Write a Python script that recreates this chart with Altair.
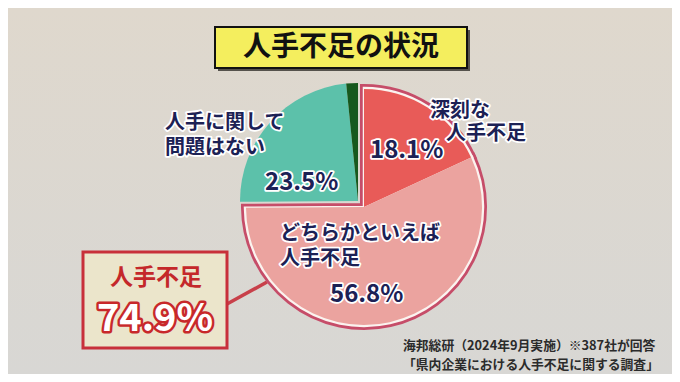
import altair as alt
import pandas as pd

# ---------------- data ----------------
categories = ["深刻な人手不足", "どちらかといえば人手不足", "人手に関して問題はない", "無回答"]
values = [18.1, 56.8, 23.5, 1.6]
groups = ["不足", "不足", "問題なし", "問題なし"]
order = [1, 2, 3, 4]

title_text = "人手不足の状況"
summary_label = "人手不足"
summary_value = "74.9%"
label_texts = ["深刻な", "人手不足", "18.1%",
               "人手に関して", "問題はない", "23.5%",
               "どちらかといえば", "人手不足", "56.8%"]
source_lines = ["海邦総研（2024年9月実施）※387社が回答",
                "「県内企業における人手不足に関する調査」"]

# ---------------- styles / layout ----------------
FONT = "Noto Sans CJK JP"
W, H, OFF = 664, 366, 8
slice_colors = ["#e85b58", "#eba39f", "#5cc1aa", "#17591e"]
NAVY = "#1c2155"
OUTLINE = "#c64d69"

label_x = [430, 446, 370, 165, 165, 265, 280, 280, 330]
label_y = [111, 134, 151, 123, 148, 183, 234, 259, 295]
label_size = [20, 20, 24, 20, 20, 24, 20, 20, 24]

XS = alt.X("x:Q", scale=alt.Scale(domain=[OFF, W + OFF], range=[0, W]), axis=None)
YS = alt.Y("y:Q", scale=alt.Scale(domain=[OFF, H + OFF], range=[0, H]), axis=None)
X2 = alt.X2("x2:Q")
Y2 = alt.Y2("y2:Q")

pie_df = pd.DataFrame({"category": categories, "value": values, "group": groups,
                       "order": order, "color": slice_colors})

theta_scale = alt.Scale(domain=[0, 100], range=[0, 6.283185307179586])


def pie_layer(group, cx, cy, radius, fill=None, stroke=None, sw=0):
    base = (alt.Chart(pie_df)
            .transform_window(cum="sum(value)", sort=[alt.SortField("order")], frame=[None, 0])
            .transform_calculate(start="datum.cum - datum.value")
            .transform_filter(alt.datum.group == group))
    kw = dict(radius=radius)
    if fill is not None:
        kw["fill"] = fill
    if stroke is not None:
        kw["stroke"] = stroke
        kw["strokeWidth"] = sw
        kw["strokeJoin"] = "miter"
    enc = dict(theta=alt.Theta("start:Q", scale=theta_scale, stack=None),
               theta2=alt.Theta2("cum:Q"),
               x=alt.value(cx - OFF), y=alt.value(cy - OFF))
    if fill is None:
        enc["color"] = alt.Color("color:N", scale=None, legend=None)
    return base.mark_arc(**kw).encode(**enc)


# background
bg = alt.Chart(pd.DataFrame({"a": [0]})).mark_rect(
    fill=alt.Gradient(gradient="linear",
                      stops=[alt.GradientStop(color="#dfd8cd", offset=0),
                             alt.GradientStop(color="#d8d7d4", offset=1)],
                      x1=0, x2=0, y1=0, y2=1)
).encode(x=alt.value(0), x2=alt.value(W), y=alt.value(0), y2=alt.value(H))

# connector
conn_df = pd.DataFrame({"x": [227], "y": [304], "x2": [267], "y2": [282]})
conn = alt.Chart(conn_df).mark_rule(color="#c8404a", strokeWidth=3.5).encode(
    x=XS, y=YS, x2=X2, y2=Y2)

# pies
teal = pie_layer("問題なし", 358, 201, 118)
outA = pie_layer("不足", 364, 207, 119, fill=OUTLINE, stroke=OUTLINE, sw=8)
outB = pie_layer("不足", 364, 207, 119, fill="#fbf3ef", stroke="#fbf3ef", sw=2.5)
red = pie_layer("不足", 364, 207, 118)

# boxes
box_df = pd.DataFrame({
    "x": [218, 215, 83], "y": [30, 27, 252], "x2": [470, 467, 227], "y2": [71, 68, 348],
    "fill": ["#55524c", "#f4ee5e", "#ebe5cb"],
    "stroke": ["#55524c", "#111111", "#c8303a"],
    "sw": [0, 2, 3],
})
boxes = alt.Chart(box_df).mark_rect().encode(
    x=XS, y=YS, x2=X2, y2=Y2,
    fill=alt.Fill("fill:N", scale=None, legend=None),
    stroke=alt.Stroke("stroke:N", scale=None, legend=None),
    strokeWidth=alt.StrokeWidth("sw:Q", scale=None, legend=None))

# texts
rows = []
for t, x, y, s in zip(label_texts, label_x, label_y, label_size):
    rows.append(dict(text=t, x=x, y=y, size=s, fill=NAVY, halo="white", hw=3.5, align="left"))
rows.append(dict(text=title_text, x=341, y=48, size=28, fill="#111111", halo="none", hw=0, align="center"))
rows.append(dict(text=summary_label, x=156, y=278, size=23, fill="#c4282a", halo="none", hw=0, align="center"))
rows.append(dict(text=summary_value, x=155, y=320, size=38, fill="#ffffff", halo="#c8282a", hw=5, align="center"))
rows.append(dict(text=source_lines[0], x=403, y=346, size=12.8, fill="#2b2b2b", halo="none", hw=0, align="left"))
rows.append(dict(text=source_lines[1], x=403, y=365, size=12.8, fill="#2b2b2b", halo="none", hw=0, align="left"))
text_df = pd.DataFrame(rows)


def text_layers(align):
    base = alt.Chart(text_df).transform_filter(alt.datum.align == align)
    halo = base.transform_filter("datum.halo != 'none'").mark_text(
        align=align, baseline="middle", font=FONT, fontWeight="bold", strokeJoin="round"
    ).encode(x=XS, y=YS, text="text:N",
             size=alt.Size("size:Q", scale=None, legend=None),
             color=alt.Color("halo:N", scale=None, legend=None),
             stroke=alt.Stroke("halo:N", scale=None, legend=None),
             strokeWidth=alt.StrokeWidth("hw:Q", scale=None, legend=None))
    fill = base.mark_text(
        align=align, baseline="middle", font=FONT, fontWeight="bold"
    ).encode(x=XS, y=YS, text="text:N",
             size=alt.Size("size:Q", scale=None, legend=None),
             color=alt.Color("fill:N", scale=None, legend=None))
    return [halo, fill]


layers = [bg, conn, teal, outA, outB, red, boxes] + text_layers("left") + text_layers("center")

chart = alt.layer(*layers).properties(
    width=W, height=H, padding=0, autosize=alt.AutoSizeParams(type="none"),
    background="#dcd7cf"
).configure_view(stroke=None)

chart.save("out.html", embed_options={"renderer": "svg", "actions": False})
